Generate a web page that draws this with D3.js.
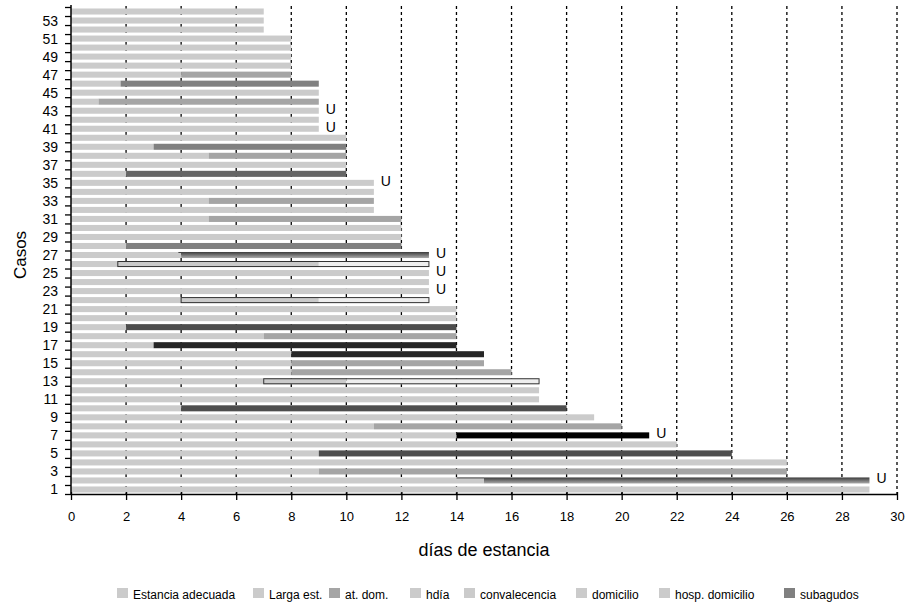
<!DOCTYPE html>
<html>
<head>
<meta charset="utf-8">
<script src="https://cdn.jsdelivr.net/npm/d3@7"></script>
<style>
  html, body { margin: 0; padding: 0; background: #fff; }
  svg { display: block; font-family: "Liberation Sans", Arial, sans-serif; }
</style>
</head>
<body>
<svg id="chart" width="909" height="610"></svg>
<script>
// ---------- data (index 0 = caso 1) ----------
const casos = d3.range(1, 55);
const diasTotales = [29,29,26,26,24,22,21,20,19,18,17,17,17,16,15,15,14,14,14,14,14,13,13,13,13,13,13,12,12,12,12,11,11,11,11,10,10,10,10,10,9,9,9,9,9,9,8,8,8,8,8,7,7,7];
const finAdecuada = [29,15,9,26,9,22,14,11,19,4,17,17,10,8,8,8,3,7,2,14,14,9,13,13,13,9,4,2,12,12,5,11,5,11,11,2,10,5,3,10,9,9,9,1,9,1.8,4,8,8,8,8,7,7,7];
const tipoResto = ["","degradado","medio","","oscuro","","negro","medio","","oscuro","","","hueco","medio","medio","muyOscuro","muyOscuro","medio","oscuro","","","hueco","","","","hueco","degradado","gris","","","medio","","medio","","","gris66","","medio","gris","","","","","medio","","gris","medio","","","","","","",""];
const inicioMarco = {2:14, 13:7, 22:4, 26:1.7, 27:3.9};
const casosU = [2,7,23,25,27,35,41,43];
const xTicks = d3.range(0, 31, 2);
const yLabels = d3.range(1, 54, 2);
const leyendaNombres = ["Estancia adecuada","Larga est.","at. dom.","hdía","convalecencia","domicilio","hosp. domicilio","subagudos"];
const leyendaColores = ["#cbcbcb","#cbcbcb","#a5a5a5","#cbcbcb","#cbcbcb","#cbcbcb","#cbcbcb","#808080"];

// ---------- styles ----------
const colorTipo = {
  medio: "#a5a5a5", gris: "#808080", gris66: "#666666", oscuro: "#4d4d4d",
  muyOscuro: "#262626", negro: "#000000", degradado: "url(#grad)", hueco: "#eeeeee"
};
const claro = "#cbcbcb";
const leyendaX = [117, 253, 329, 410, 464, 576, 659, 784];

const svg = d3.select("#chart");
const defs = svg.append("defs");
const g = defs.append("linearGradient").attr("id","grad").attr("x1",0).attr("y1",0).attr("x2",0).attr("y2",1);
g.append("stop").attr("offset","0%").attr("stop-color","#3c3c3c");
g.append("stop").attr("offset","100%").attr("stop-color","#aaaaaa");

const x = d3.scaleLinear().domain([0, 30]).range([71, 897]);
const y = d3.scaleBand().domain(casos).range([494, 7]).paddingInner(0.33).paddingOuter(0.165);
const yl = d3.scaleLinear().domain([0.5, 54.5]).range([494, 7]);

// gridlines
svg.append("g").selectAll("line").data(xTicks.filter(d => d > 0)).join("line")
  .attr("x1", d => x(d)).attr("x2", d => x(d))
  .attr("y1", 6).attr("y2", 494)
  .attr("stroke", "#000").attr("stroke-width", 1.3).attr("stroke-dasharray", "3,3");

const rows = casos.map((c, i) => ({c, total: diasTotales[i], fin: finAdecuada[i], tipo: tipoResto[i], marco: inicioMarco[c]}));
const bars = svg.append("g");
// light segment
bars.selectAll("rect.a").data(rows).join("rect").attr("class","a")
  .attr("x", x(0)).attr("y", d => y(d.c))
  .attr("width", d => x(d.fin) - x(0)).attr("height", y.bandwidth())
  .attr("fill", claro);
// second segment
const rest = rows.filter(d => d.tipo && d.fin < d.total);
bars.selectAll("rect.b").data(rest).join("rect").attr("class","b")
  .attr("x", d => x(d.fin)).attr("y", d => y(d.c))
  .attr("width", d => x(d.total) - x(d.fin)).attr("height", y.bandwidth())
  .attr("fill", d => colorTipo[d.tipo]);
// outlines for hollow
bars.selectAll("rect.m").data(rest.filter(d => d.tipo === "hueco")).join("rect").attr("class","m")
  .attr("x", d => x(d.marco)).attr("y", d => y(d.c) + 0.5)
  .attr("width", d => x(d.total) - x(d.marco)).attr("height", y.bandwidth() - 1)
  .attr("fill", "none").attr("stroke", "#333").attr("stroke-width", 1);
// top line for gradient
bars.selectAll("line.m").data(rest.filter(d => d.tipo === "degradado")).join("line").attr("class","m")
  .attr("x1", d => x(d.marco)).attr("x2", d => x(d.fin))
  .attr("y1", d => y(d.c) + 0.5).attr("y2", d => y(d.c) + 0.5)
  .attr("stroke", "#444").attr("stroke-width", 1);

// U labels
svg.append("g").selectAll("text").data(rows.filter(d => casosU.includes(d.c))).join("text")
  .attr("x", d => x(d.total) + 7).attr("y", d => yl(d.c) - 2)
  .attr("dy", "0.35em").attr("font-size", 14).attr("fill", "#000").text("U");

// x axis
const xa = svg.append("g").attr("transform", "translate(0,494)")
  .call(d3.axisBottom(x).tickValues(xTicks).tickSize(6).tickSizeOuter(0).tickPadding(12));
xa.selectAll(".tick line").attr("y1", -2).attr("stroke-width", 1.3);
xa.select(".domain").attr("stroke-width", 1.5);
xa.selectAll("text").attr("font-size", 13).attr("font-family", "Liberation Sans, Arial, sans-serif").attr("fill", "#000");

// y axis ticks at boundaries
const ya = svg.append("g").attr("transform", "translate(71,0)")
  .call(d3.axisLeft(yl).tickValues(d3.range(0.5, 55, 1)).tickSize(6).tickSizeOuter(0).tickFormat(""));
ya.select(".domain").attr("stroke-width", 1.5).attr("d", "M0,494V5");
ya.selectAll(".tick line").attr("stroke-width", 1.3);
const yb = svg.append("g").attr("transform", "translate(71,0)")
  .call(d3.axisLeft(yl).tickValues(yLabels).tickSize(0).tickPadding(13));
yb.select(".domain").remove();
yb.selectAll("text").attr("font-size", 14).attr("font-family", "Liberation Sans, Arial, sans-serif").attr("fill", "#000");

// axis titles
svg.append("text").attr("x", 484).attr("y", 556).attr("text-anchor", "middle")
  .attr("font-size", 18).text("días de estancia");
svg.append("text").attr("transform", "translate(20,255) rotate(-90)").attr("text-anchor", "middle")
  .attr("dy", "0.35em").attr("font-size", 17).text("Casos");

// legend
const lg = svg.append("g").selectAll("g").data(leyendaNombres).join("g")
  .attr("transform", (d, i) => `translate(${leyendaX[i]},588)`);
lg.append("rect").attr("width", 11).attr("height", 10).attr("fill", (d, i) => leyendaColores[i]);
lg.append("text").attr("x", 16).attr("y", 11).attr("font-size", 12).attr("fill", "#000").text(d => d);
</script>
</body>
</html>
